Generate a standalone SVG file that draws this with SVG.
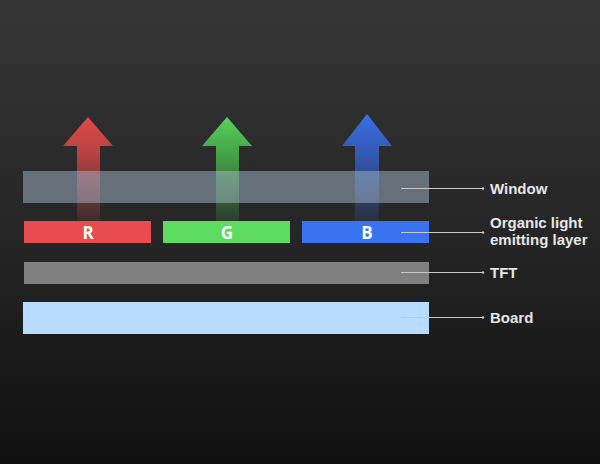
<svg xmlns="http://www.w3.org/2000/svg" width="600" height="464" viewBox="0 0 600 464">
<defs>
<linearGradient id="bg" x1="0" y1="0" x2="0" y2="1">
<stop offset="0" stop-color="#363636"/>
<stop offset="0.5" stop-color="#262626"/>
<stop offset="1" stop-color="#101010"/>
</linearGradient>
<linearGradient id="gr" gradientUnits="userSpaceOnUse" x1="0" y1="117" x2="0" y2="221">
<stop offset="0" stop-color="#e04848"/>
<stop offset="0.35" stop-color="#c84545" stop-opacity="0.9"/>
<stop offset="1" stop-color="#c84545" stop-opacity="0.15"/>
</linearGradient>
<linearGradient id="gg" gradientUnits="userSpaceOnUse" x1="0" y1="117" x2="0" y2="221">
<stop offset="0" stop-color="#56d45a"/>
<stop offset="0.35" stop-color="#48b04c" stop-opacity="0.9"/>
<stop offset="1" stop-color="#48b04c" stop-opacity="0.15"/>
</linearGradient>
<linearGradient id="gb" gradientUnits="userSpaceOnUse" x1="0" y1="114" x2="0" y2="221">
<stop offset="0" stop-color="#3a6fe6"/>
<stop offset="0.35" stop-color="#3460c8" stop-opacity="0.9"/>
<stop offset="1" stop-color="#3460c8" stop-opacity="0.15"/>
</linearGradient>
<style>
.lbl{font-family:"Liberation Sans",Arial,sans-serif;font-weight:700;font-size:15px;fill:#e6e6e6}
.ltr{font-family:"Open Sans","Liberation Sans",sans-serif;font-weight:700;font-size:17px;fill:#ffffff;text-anchor:middle}
.ln{stroke:#c8c8c8;stroke-width:1;fill:none}
.dot{fill:#d0d0d0}
</style>
</defs>
<rect width="600" height="464" fill="url(#bg)"/>
<g id="arrow-r"><polygon points="88,117 113,146 100,146 100,221 77,221 77,146 63,146" fill="url(#gr)"/></g>
<g id="arrow-g"><polygon points="227,117 252,146 239,146 239,221 216,221 216,146 202,146" fill="url(#gg)"/></g>
<g id="arrow-b"><polygon points="367,114 392,146 379,146 379,221 355,221 355,146 342,146" fill="url(#gb)"/></g>
<g id="window"><rect x="23" y="171" width="406" height="32" fill="#a4b8cc" opacity="0.5"/></g>
<g id="oled">
<rect x="24" y="221" width="127" height="22" fill="#e84c4f"/>
<text class="ltr" x="88" y="239">R</text>
<rect x="163" y="221" width="127" height="22" fill="#5ddc61"/>
<text class="ltr" x="227" y="239">G</text>
<rect x="302" y="221" width="127" height="22" fill="#3a73f0"/>
<text class="ltr" x="367" y="239">B</text>
</g>
<g id="tft"><rect x="24" y="262" width="405" height="22" fill="#808080"/></g>
<g id="board"><rect x="23" y="302" width="406" height="32" fill="#b8dcff"/></g>
<g id="connectors">
<line class="ln" x1="401" y1="188.5" x2="483" y2="188.5"/>
<line class="ln" x1="401" y1="232.5" x2="483" y2="232.5"/>
<line class="ln" x1="401" y1="272.5" x2="483" y2="272.5"/>
<line class="ln" x1="401" y1="317.5" x2="483" y2="317.5"/>
<circle class="dot" cx="483" cy="188.5" r="1.2"/>
<circle class="dot" cx="483" cy="232.5" r="1.2"/>
<circle class="dot" cx="483" cy="272.5" r="1.2"/>
<circle class="dot" cx="483" cy="317.5" r="1.2"/>
</g>
<g id="labels">
<text class="lbl" x="490" y="194">Window</text>
<text class="lbl" x="490" y="228">Organic light</text>
<text class="lbl" x="490" y="245">emitting layer</text>
<text class="lbl" x="490" y="278">TFT</text>
<text class="lbl" x="490" y="323">Board</text>
</g>
</svg>
